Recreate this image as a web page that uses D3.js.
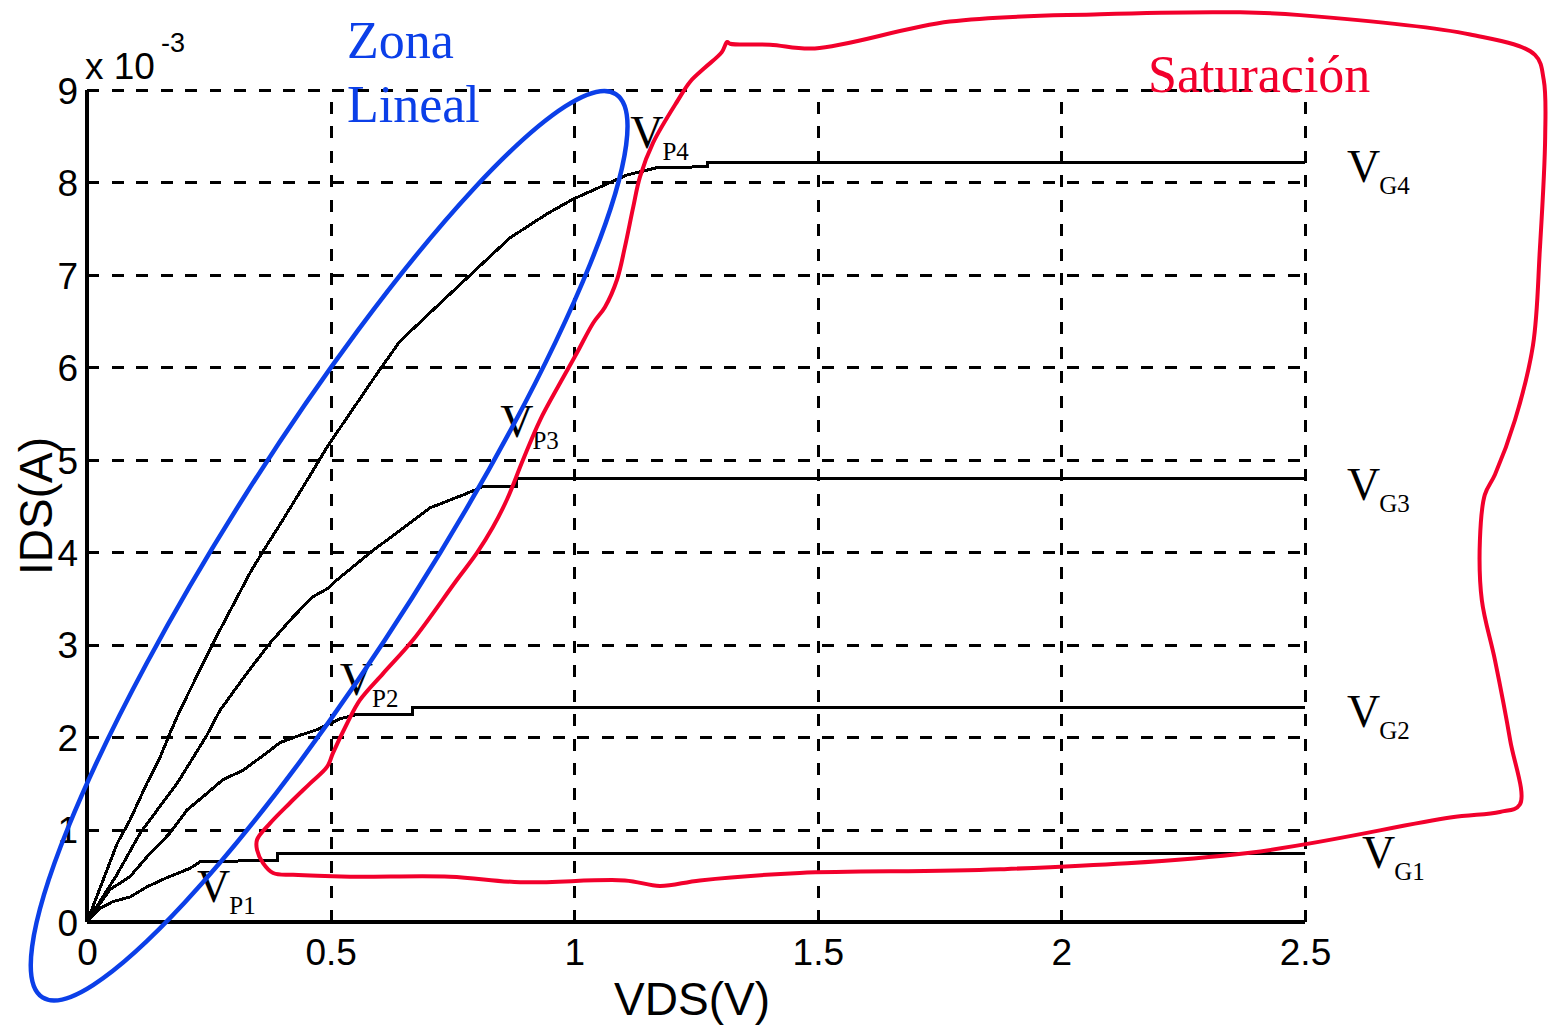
<!DOCTYPE html>
<html>
  <head>
    <meta charset="utf-8">
    <script src="https://cdn.jsdelivr.net/npm/d3@7"></script>
    <style>
      body { margin: 0; background: #ffffff; }
      svg { display: block; }
      .tick text { font-family: "Liberation Sans", Arial, sans-serif; font-size: 37px; fill: #000; }
      .grid line { stroke: #000; stroke-width: 3; stroke-dasharray: 12,12.5; shape-rendering: crispEdges; }
      .grid .domain { display: none; }
      .ann { font-family: "Liberation Serif", "Times New Roman", serif; }
    </style>
  </head>
  <body>
    <script>
      // ---- data: VDS (V), IDS (mA, axis multiplied by 10^-3) ----
      var xTicks = [0, 0.5, 1, 1.5, 2, 2.5];
      var yTicks = [0, 1, 2, 3, 4, 5, 6, 7, 8, 9];

      var curveVG1 = [[0,0],[0.027,0.15],[0.053,0.22],[0.088,0.27],[0.123,0.38],[0.164,0.48],
                      [0.211,0.58],[0.232,0.65],[0.39,0.67],[0.39,0.745],[2.5,0.745]];
      var curveVG2 = [[0,0],[0.047,0.35],[0.088,0.49],[0.129,0.74],[0.170,0.96],[0.205,1.21],
                      [0.246,1.39],[0.279,1.54],[0.320,1.64],[0.369,1.83],[0.396,1.94],[0.437,2.02],
                      [0.472,2.08],[0.52,2.2],[0.55,2.24],[0.669,2.24],[0.669,2.315],[2.5,2.315]];
      var curveVG3 = [[0,0],[0.06,0.5],[0.109,0.96],[0.144,1.21],[0.185,1.50],[0.211,1.72],
                      [0.246,2.02],[0.273,2.29],[0.328,2.69],[0.376,3.02],[0.423,3.30],[0.464,3.52],
                      [0.495,3.61],[0.513,3.70],[0.587,4.02],[0.636,4.21],[0.704,4.48],[0.772,4.62],
                      [0.813,4.71],[0.882,4.71],[0.882,4.80],[2.5,4.80]];
      var curveVG4 = [[0,0],[0.062,0.85],[0.088,1.10],[0.123,1.50],[0.150,1.78],[0.170,2.04],
                      [0.191,2.29],[0.259,3.02],[0.335,3.78],[0.359,3.99],[0.402,4.35],[0.452,4.78],
                      [0.493,5.14],[0.595,5.93],[0.642,6.28],[0.710,6.62],[0.807,7.10],[0.868,7.40],
                      [0.944,7.66],[0.998,7.82],[1.053,7.95],[1.108,8.08],[1.170,8.16],[1.273,8.17],
                      [1.273,8.22],[2.5,8.22]];

      // labels: [main, subscript, vds, ids] (left / baseline of the "V")
      var labels = [["V","P1",0.226,0.216],["V","P2",0.519,2.46],["V","P3",0.848,5.25],
                    ["V","P4",1.115,8.37],["V","G4",2.586,8.01],["V","G3",2.586,4.57],
                    ["V","G2",2.586,2.11],["V","G1",2.617,0.58]];

      // hand-drawn saturation outline, in (V, mA)
      var satOutline = [[1.314,9.52],[1.303,9.41],[1.268,9.24],[1.238,9.09],[1.213,8.89],[1.162,8.43],
                        [1.135,8.06],[1.121,7.73],[1.104,7.30],[1.088,6.95],[1.063,6.65],[1.039,6.48],
                        [1.006,6.16],[0.971,5.83],[0.930,5.43],[0.895,5.00],[0.862,4.57],[0.833,4.27],
                        [0.800,3.99],[0.759,3.70],[0.669,3.05],[0.608,2.69],[0.560,2.40],[0.534,2.15],
                        [0.505,1.83],[0.493,1.68],[0.458,1.50],[0.417,1.29],[0.376,1.07],[0.349,0.89],
                        [0.349,0.78],[0.361,0.64],[0.382,0.53],[0.423,0.51],[0.540,0.49],[0.745,0.49],
                        [0.889,0.43],[1.104,0.45],[1.176,0.39],[1.258,0.45],[1.463,0.53],[1.874,0.57],
                        [2.387,0.75],[2.798,1.13],[2.900,1.19],[2.941,1.27],[2.921,1.97],[2.890,2.83],
                        [2.863,3.48],[2.859,4.13],[2.869,4.62],[2.890,4.84],[2.931,5.43],[2.968,6.24],
                        [2.982,7.27],[2.993,8.5],[2.990,9.11],[2.972,9.38],[2.839,9.60],[2.490,9.81],
                        [2.367,9.84],[2.079,9.82],[1.771,9.74],[1.494,9.45],[1.402,9.49],[1.320,9.50]];

      // linear-zone ellipse: centre (V, mA), radii in px, angle in deg
      var linEllipse = {cx: 0.497, cy: 4.07, rx: 535, ry: 98, angle: -57.6};

      var width = 1550, height = 1029;
      var pad = {left: 87, right: 245, top: 90, bottom: 107};

      var svg = d3.select("body").append("svg")
                  .attr("width", width)
                  .attr("height", height);

      var x = d3.scaleLinear().domain([0, 2.5]).range([pad.left, width - pad.right]);
      var y = d3.scaleLinear().domain([0, 9]).range([height - pad.bottom, pad.top]);

      // dashed grid
      svg.append("g")
         .attr("class", "grid")
         .attr("transform", "translate(" + x(0) + ",0)")
         .call(d3.axisLeft(y).tickValues(yTicks.slice(1)).tickSize(-(x(2.5) - x(0))).tickFormat(""));
      svg.append("g")
         .attr("class", "grid")
         .attr("transform", "translate(0," + y(0) + ")")
         .call(d3.axisBottom(x).tickValues(xTicks.slice(1)).tickSize(-(y(0) - y(9))).tickFormat(""));

      // tick labels
      var xAx = svg.append("g")
         .attr("transform", "translate(0," + y(0) + ")")
         .call(d3.axisBottom(x).tickValues(xTicks).tickSize(0).tickPadding(17)
                .tickFormat(function(d){ return String(d); }));
      xAx.select(".domain").remove();
      var yAx = svg.append("g")
         .attr("transform", "translate(" + x(0) + ",0)")
         .call(d3.axisLeft(y).tickValues(yTicks).tickSize(0).tickPadding(9));
      yAx.select(".domain").remove();
      yAx.selectAll("text").attr("dy", "0.36em");

      // solid axes
      svg.append("line")
         .attr("x1", x(0)).attr("x2", x(0)).attr("y1", y(9)).attr("y2", y(0))
         .attr("stroke", "#000").attr("stroke-width", 4).attr("shape-rendering", "crispEdges");
      svg.append("line")
         .attr("x1", x(0)).attr("x2", x(2.5)).attr("y1", y(0)).attr("y2", y(0))
         .attr("stroke", "#000").attr("stroke-width", 4).attr("shape-rendering", "crispEdges");

      // exponent
      svg.append("text")
         .attr("x", 85).attr("y", 79)
         .style("font-family", "Liberation Sans, Arial, sans-serif")
         .style("font-size", "37px")
         .text("x 10");
      svg.append("text")
         .attr("x", 161).attr("y", 52)
         .style("font-family", "Liberation Sans, Arial, sans-serif")
         .style("font-size", "27px")
         .text("-3");

      // axis titles
      svg.append("text")
         .attr("x", 692).attr("y", 1015)
         .attr("text-anchor", "middle")
         .style("font-family", "Liberation Sans, Arial, sans-serif")
         .style("font-size", "46px")
         .text("VDS(V)");
      svg.append("text")
         .attr("transform", "translate(52,506) rotate(-90)")
         .attr("text-anchor", "middle")
         .style("font-family", "Liberation Sans, Arial, sans-serif")
         .style("font-size", "46px")
         .text("IDS(A)");

      // characteristic curves
      var line = d3.line().x(function(d){ return x(d[0]); }).y(function(d){ return y(d[1]); });
      [curveVG1, curveVG2, curveVG3, curveVG4].forEach(function(c){
        svg.append("path")
           .datum(c)
           .attr("d", line)
           .attr("fill", "none")
           .attr("stroke", "#000")
           .attr("stroke-width", 3)
           .attr("shape-rendering", "crispEdges");
      });

      // V labels
      labels.forEach(function(l){
        var t = svg.append("text")
                   .attr("class", "ann")
                   .attr("x", x(l[2])).attr("y", y(l[3]))
                   .style("font-size", "46px");
        t.append("tspan").text(l[0]);
        t.append("tspan")
         .attr("dx", -1).attr("dy", 12)
         .style("font-size", "25px")
         .text(l[1]);
      });

      // red saturation outline
      svg.append("path")
         .datum(satOutline)
         .attr("d", d3.line().curve(d3.curveCatmullRomClosed)
                      .x(function(d){ return x(d[0]); }).y(function(d){ return y(d[1]); }))
         .attr("fill", "none")
         .attr("stroke", "#f2002c")
         .attr("stroke-width", 4);

      // blue linear-zone ellipse
      svg.append("ellipse")
         .attr("cx", 0).attr("cy", 0)
         .attr("rx", linEllipse.rx).attr("ry", linEllipse.ry)
         .attr("transform", "translate(" + x(linEllipse.cx) + "," + y(linEllipse.cy) + ") rotate(" + linEllipse.angle + ")")
         .attr("fill", "none")
         .attr("stroke", "#0b3fe8")
         .attr("stroke-width", 4.5);

      // zone captions
      svg.append("text").attr("class", "ann")
         .attr("x", 347).attr("y", 58)
         .style("font-size", "52px").attr("fill", "#0b3fe8")
         .text("Zona");
      svg.append("text").attr("class", "ann")
         .attr("x", 347).attr("y", 122)
         .style("font-size", "52px").attr("fill", "#0b3fe8")
         .text("Lineal");
      svg.append("text").attr("class", "ann")
         .attr("x", 1148).attr("y", 92)
         .style("font-size", "52px").attr("fill", "#f2002c")
         .text("Saturación");
    </script>
  </body>
</html>
